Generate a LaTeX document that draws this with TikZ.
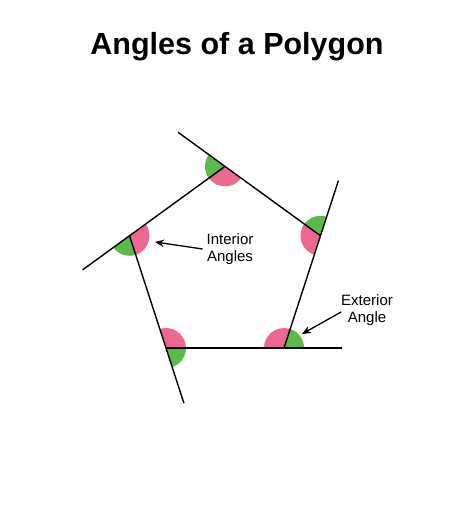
\documentclass[tikz,border=0pt]{standalone}
\usepackage{fontspec}
\setmainfont{Liberation Sans}
\usetikzlibrary{calc,arrows.meta}
\definecolor{intpink}{RGB}{236,104,144}
\definecolor{extgreen}{RGB}{93,185,76}

\begin{document}
\begin{tikzpicture}[x=1pt, y=1pt, line width=1.4pt,
    lbl/.style={align=center, font=\fontsize{15}{17.5}\selectfont},
    pointer/.style={-{Stealth[length=9pt,width=7.5pt]}, line width=1.3pt}]
    \useasboundingbox (0,0) rectangle (474,505);
    % Title
    \node[font=\fontsize{30.5}{36}\selectfont\bfseries] (title) at (237,458) {Angles of a Polygon};
    % Corners of the pentagon
    \coordinate (c) at (225,238.2);
    \coordinate (T) at ($(c)+(90:100.4)$);
    \coordinate (L) at ($(c)+(162:100.4)$);
    \coordinate (BL) at ($(c)+(234:100.4)$);
    \coordinate (BR) at ($(c)+(306:100.4)$);
    \coordinate (R) at ($(c)+(18:100.4)$);
    % Ends of the extended sides
    \coordinate (eT) at ($(T)!-58pt!(R)$);
    \coordinate (eL) at ($(L)!-58pt!(T)$);
    \coordinate (eBL) at ($(BL)!-58pt!(L)$);
    \coordinate (eBR) at ($(BR)!-58pt!(BL)$);
    \coordinate (eR) at ($(R)!-58pt!(BR)$);
    % Angles: exterior green, interior pink
    \foreach \v/\d in {T/144, L/216, BL/288, BR/360, R/432}{
        \fill[extgreen] (\v) -- ++(\d:20) arc[start angle=\d, end angle=\d+72, radius=20] -- cycle;
        \fill[intpink] (\v) -- ++(\d+72:20) arc[start angle=\d+72, end angle=\d+180, radius=20] -- cycle;
    }
    % Sides
    \draw (R) -- (eT);
    \draw (T) -- (eL);
    \draw (L) -- (eBL);
    \draw (BL) -- (eBR);
    \draw (BR) -- (eR);
    % Labels
    \node[lbl] (intlbl) at (230,256) {Interior\\Angles};
    \node[lbl] (extlbl) at (367,195) {Exterior\\Angle};
    \coordinate (intA) at (155,263);
    \coordinate (extA) at (302,171);
    \draw[pointer] (intlbl.west) -- (intA);
    \draw[pointer] ([shift={(4,-2)}]extlbl.west) -- (extA);
\end{tikzpicture}
\end{document}
